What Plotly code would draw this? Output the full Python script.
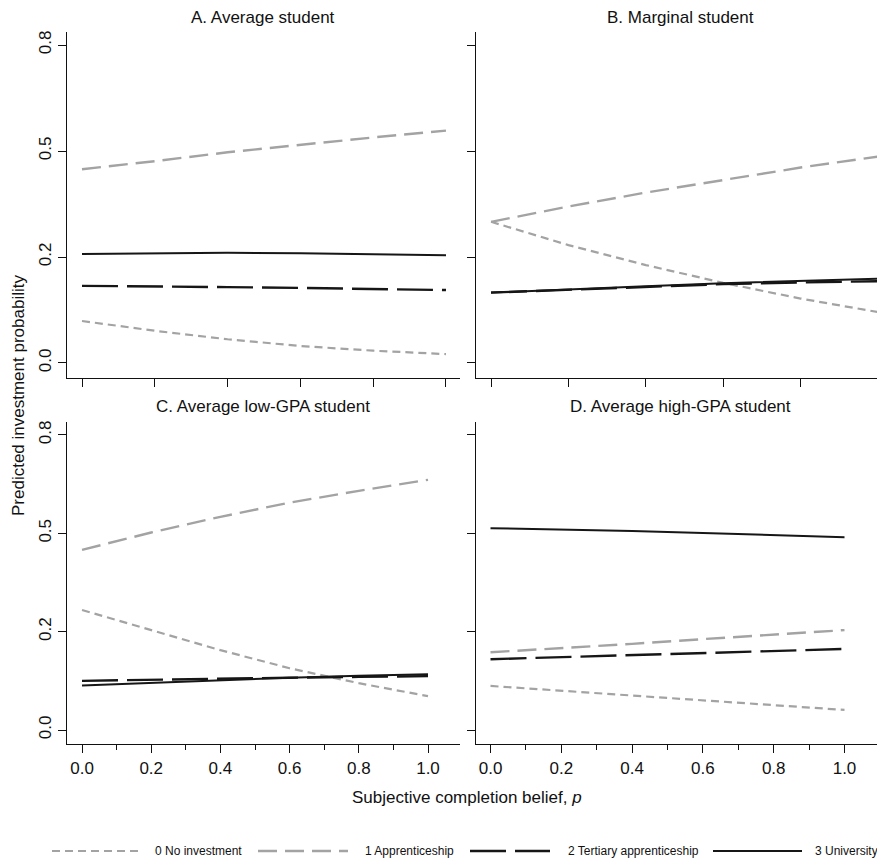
import plotly.graph_objects as go

# page body has an 8px default margin; figure is sized to fill the rest of the window
OFF = 8
W, H = 885 - OFF, 862 - OFF

# ---- data ----
p = [0.0, 0.2, 0.4, 0.6, 0.8, 1.0]

series_names = ["0 No investment", "1 Apprenticeship", "2 Tertiary apprenticeship", "3 University"]

panel_titles = ["A. Average student", "B. Marginal student",
                "C. Average low-GPA student", "D. Average high-GPA student"]

no_inv_A = [0.099, 0.076, 0.056, 0.040, 0.029, 0.021]
appr_A = [0.457, 0.476, 0.497, 0.515, 0.532, 0.548]
tert_A = [0.182, 0.181, 0.179, 0.177, 0.175, 0.172]
univ_A = [0.257, 0.259, 0.260, 0.259, 0.257, 0.254]

no_inv_B = [0.333, 0.278, 0.231, 0.189, 0.152, 0.120]
appr_B = [0.333, 0.369, 0.402, 0.432, 0.461, 0.487]
tert_B = [0.166, 0.173, 0.180, 0.186, 0.190, 0.193]
univ_B = [0.166, 0.174, 0.181, 0.188, 0.194, 0.199]

no_inv_C = [0.305, 0.254, 0.203, 0.157, 0.119, 0.086]
appr_C = [0.458, 0.502, 0.542, 0.578, 0.608, 0.636]
tert_C = [0.125, 0.128, 0.131, 0.133, 0.135, 0.137]
univ_C = [0.113, 0.120, 0.127, 0.133, 0.138, 0.142]

no_inv_D = [0.112, 0.100, 0.088, 0.076, 0.063, 0.051]
appr_D = [0.1975, 0.208, 0.219, 0.231, 0.242, 0.254]
tert_D = [0.180, 0.185, 0.190, 0.195, 0.200, 0.206]
univ_D = [0.513, 0.510, 0.506, 0.501, 0.496, 0.490]

y_tickvals = [0.0, 0.25, 0.5, 0.75]
y_ticktext = ["0.0", "0.2", "0.5", "0.8"]

# ---- styles ----
FONT = "Liberation Sans, Arial, Helvetica, sans-serif"
GRAY = "#a3a3a3"
BLACK = "#161616"
styles = [
    dict(color=GRAY, width=2.2, dash="8px,5px"),
    dict(color=GRAY, width=2.4, dash="19px,8px"),
    dict(color=BLACK, width=2.4, dash="36px,9px"),
    dict(color=BLACK, width=2.0, dash="solid"),
]

panels = [
    [no_inv_A, appr_A, tert_A, univ_A],
    [no_inv_B, appr_B, tert_B, univ_B],
    [no_inv_C, appr_C, tert_C, univ_C],
    [no_inv_D, appr_D, tert_D, univ_D],
]

fig = go.Figure()
for i, data in enumerate(panels):
    xa = "x" if i == 0 else f"x{i+1}"
    ya = "y" if i == 0 else f"y{i+1}"
    for j, vals in enumerate(data):
        fig.add_trace(go.Scatter(x=p, y=vals, mode="lines", name=series_names[j],
                                 line=styles[j], xaxis=xa, yaxis=ya,
                                 showlegend=False, hoverinfo="skip"))

def px_x(v):
    return (v - OFF) / W

def px_y(v):
    return 1 - (v - OFF) / H

# panel geometry (window pixels): left, right, top, bottom
geo = [
    (67, 460, 32, 378),
    (476, 885, 32, 378),
    (67, 460, 422, 744),
    (476, 885, 422, 744),
]
xranges = [[-0.0412, 1.0385], [-0.0388, 1.018], [-0.0434, 1.0925], [-0.041, 1.1144]]
yranges = [[-0.0354, 0.7807], [-0.0354, 0.7807], [-0.0356, 0.783], [-0.0356, 0.783]]

layout = dict(
    width=W, height=H,
    margin=dict(l=0, r=0, t=0, b=0),
    paper_bgcolor="white", plot_bgcolor="white",
    font=dict(family=FONT, size=17, color="#111"),
    showlegend=False,
)
for i in range(4):
    l, r, t, b = geo[i]
    xk = "xaxis" if i == 0 else f"xaxis{i+1}"
    yk = "yaxis" if i == 0 else f"yaxis{i+1}"
    ya = "y" if i == 0 else f"y{i+1}"
    xa = "x" if i == 0 else f"x{i+1}"
    bottom_row = i >= 2
    xdict = dict(
        domain=[px_x(l), min(px_x(r), 1.0)], range=xranges[i], anchor=ya,
        showgrid=False, zeroline=False, showline=True, linecolor="#111", linewidth=1.3,
        ticks="outside", ticklen=8, tickwidth=1.3, tickcolor="#111",
        tickmode="linear", tick0=0, dtick=0.2, tickformat=".1f",
        showticklabels=bottom_row, tickfont=dict(size=17, family=FONT, color="#111"),
    )
    if bottom_row:
        xdict["minor"] = dict(ticks="outside", ticklen=5, tickwidth=1.1, tickcolor="#111",
                              tickmode="linear", tick0=0.1, dtick=0.2)
    layout[xk] = xdict
    layout[yk] = dict(
        domain=[px_y(b), px_y(t)], range=yranges[i], anchor=xa,
        showgrid=False, zeroline=False, showline=True, linecolor="#111", linewidth=1.3,
        ticks="outside", ticklen=8, tickwidth=1.3, tickcolor="#111",
        tickmode="array", tickvals=y_tickvals, ticktext=y_ticktext,
        tickangle=-90, showticklabels=(i % 2 == 0),
        tickfont=dict(size=17, family=FONT, color="#111"),
    )
fig.update_layout(**layout)

annotations = []
title_y = [17, 17, 406, 406]
for i in range(4):
    l, r, t, b = geo[i]
    annotations.append(dict(text=panel_titles[i], x=px_x((l + r) / 2), y=px_y(title_y[i]),
                            xref="paper", yref="paper", showarrow=False,
                            xanchor="center", yanchor="middle",
                            font=dict(size=17, family=FONT, color="#111")))
annotations.append(dict(text="Predicted investment probability", x=px_x(18), y=px_y(396),
                        xref="paper", yref="paper", showarrow=False, textangle=-90,
                        xanchor="center", yanchor="middle",
                        font=dict(size=17, family=FONT, color="#111")))
annotations.append(dict(text="Subjective completion belief, <i>p</i>", x=px_x(467), y=px_y(797),
                        xref="paper", yref="paper", showarrow=False,
                        xanchor="center", yanchor="middle",
                        font=dict(size=17, family=FONT, color="#111")))

# legend drawn as line samples + labels
leg_y = 851
leg_sym = [(52, 138), (258, 348), (470, 550), (713, 802)]
leg_txt = [153, 363, 566, 813]
shapes = []
for j in range(4):
    x0, x1 = leg_sym[j]
    shapes.append(dict(type="line", xref="paper", yref="paper",
                       x0=px_x(x0), x1=px_x(x1), y0=px_y(leg_y), y1=px_y(leg_y),
                       line=styles[j]))
    annotations.append(dict(text=series_names[j], x=px_x(leg_txt[j]), y=px_y(leg_y),
                            xref="paper", yref="paper", showarrow=False,
                            xanchor="left", yanchor="middle",
                            font=dict(size=12, family=FONT, color="#111")))

fig.update_layout(annotations=annotations, shapes=shapes)
fig.write_html("out.html")
